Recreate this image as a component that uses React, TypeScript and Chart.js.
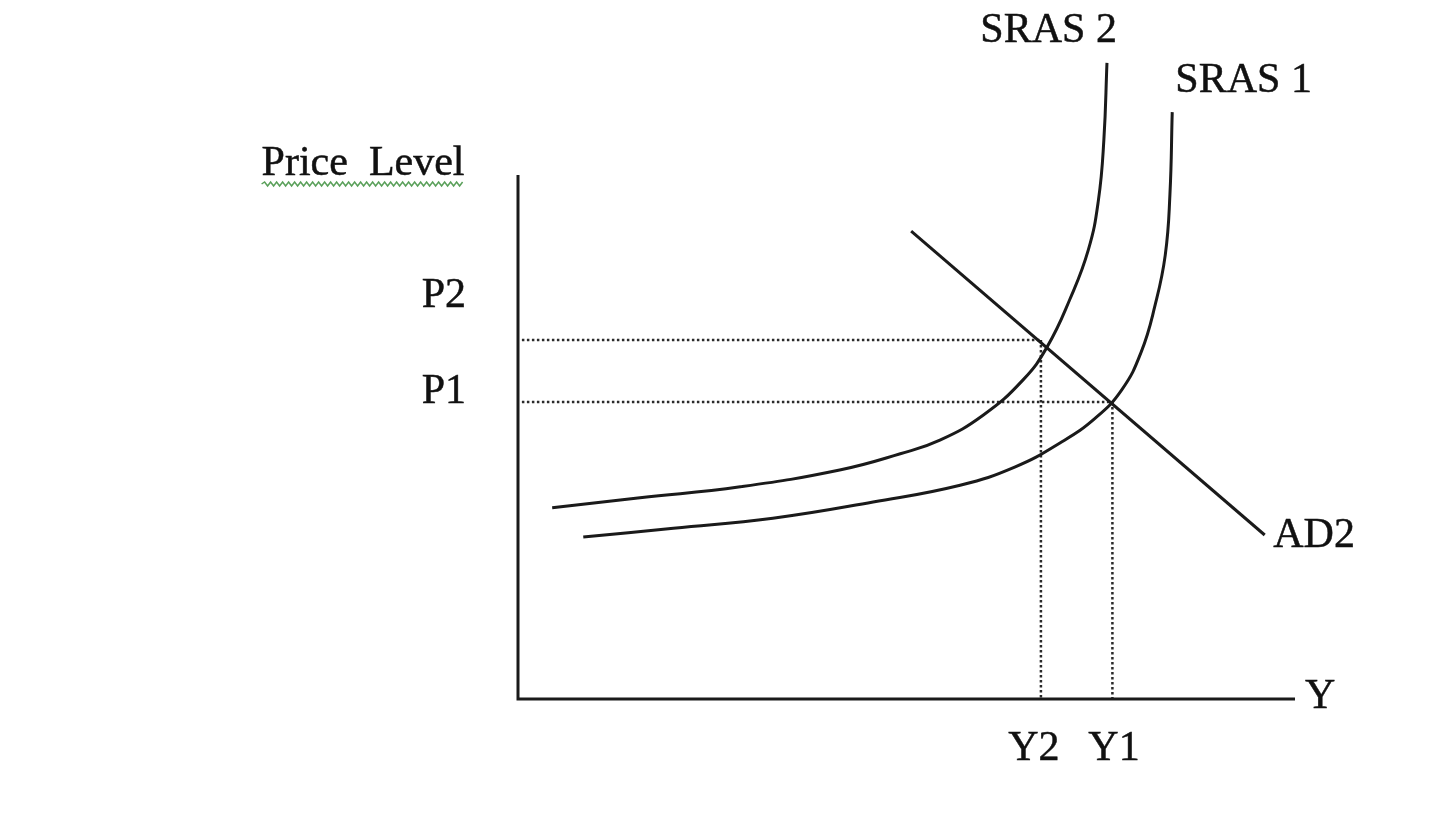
import React, { useEffect, useRef } from "react";
import { Chart, registerables } from "chart.js";

Chart.register(...registerables);

// Curves (data units: x = output Y, y = price level; axis origin at 0,0)
const sras2X = [4.4, 15.7, 28.6, 41.4, 49.2, 54.3, 59.9, 65.0, 68.1, 71.0, 73.4, 74.7, 75.4, 75.8];
const sras2Y = [36.5, 38.4, 40.5, 43.7, 46.8, 49.4, 54.2, 60.9, 67.2, 76.2, 85.7, 95.2, 106.7, 121.4];
const sras1X = [8.4, 20.0, 32.8, 45.7, 56.9, 64.0, 69.8, 74.3, 77.7, 80.2, 82.0, 83.3, 83.9, 84.2];
const sras1Y = [30.9, 32.6, 34.5, 37.6, 40.8, 44.3, 48.9, 53.6, 59.0, 66.2, 75.2, 84.7, 96.2, 112.0];
const ad2X = [50.6, 96.1];
const ad2Y = [89.3, 31.3];

// Axes
const axisX = [0, 0, 100];
const axisY = [100, 0, 0];

// Equilibrium levels
const priceLevelNames = ["P1", "P2"];
const priceLevels = [56.7, 68.5];
const outputLevelNames = ["Y1", "Y2"];
const outputLevels = [76.5, 67.3];

// Text labels and their anchor (left, baseline) in data units
const labelTexts = ["SRAS 2", "SRAS 1", "Price  Level", "P2", "P1", "AD2", "Y", "Y2", "Y1"];
const labelXs = [59.5, 84.6, -33.0, -12.4, -12.4, 97.2, 101.3, 63.1, 73.4];
const labelYs = [125.4, 115.8, 100.0, 74.8, 56.5, 29.0, -1.7, -11.6, -11.6];

const X_MIN = -66.667;
const X_MAX = 118.661;
const Y_MIN = -24.809;
const Y_MAX = 133.397;

const FONT = "42px 'Liberation Serif', 'Times New Roman', serif";

const toPts = (xs: number[], ys: number[]) => xs.map((x, i) => ({ x, y: ys[i] }));

export default function App() {
  const ref = useRef<HTMLCanvasElement | null>(null);

  useEffect(() => {
    if (!ref.current) return;
    let chart: Chart | null = null;
    let cancelled = false;
    const lineColor = "#1a1a1a";
    const dotColor = "#2a2a2a";

    const solid = (data: { x: number; y: number }[], width = 3, tension = 0) => ({
      data,
      showLine: true,
      borderColor: lineColor,
      borderWidth: width,
      pointRadius: 0,
      fill: false,
      cubicInterpolationMode: "default" as const,
      tension,
      borderCapStyle: "butt" as const,
      borderJoinStyle: "miter" as const,
    });

    const datasets: any[] = [
      solid(toPts(axisX, axisY), 3),
      solid(toPts(sras2X, sras2Y), 3, 0.45),
      solid(toPts(sras1X, sras1Y), 3, 0.45),
      solid(toPts(ad2X, ad2Y), 3),
    ];

    priceLevels.forEach((p, i) => {
      const dotted = {
        showLine: true,
        borderColor: dotColor,
        borderWidth: 2.5,
        borderDash: [2.5, 2.5],
        pointRadius: 0,
      };
      datasets.push({
        ...dotted,
        label: priceLevelNames[i],
        data: [
          { x: 0.5, y: p },
          { x: outputLevels[i], y: p },
        ],
      });
      datasets.push({
        ...dotted,
        label: outputLevelNames[i],
        data: [
          { x: outputLevels[i], y: p },
          { x: outputLevels[i], y: 0 },
        ],
      });
    });

    const labelPlugin = {
      id: "labels",
      afterDatasetsDraw(c: any) {
        const { ctx, scales } = c;
        ctx.save();
        ctx.fillStyle = "#111111";
        ctx.strokeStyle = "#111111";
        ctx.lineWidth = 0.5;
        ctx.font = FONT;
        ctx.textAlign = "left";
        ctx.textBaseline = "alphabetic";
        labelTexts.forEach((t, i) => {
          const px = scales.x.getPixelForValue(labelXs[i]);
          const py = scales.y.getPixelForValue(labelYs[i]);
          ctx.fillText(t, px, py);
          ctx.strokeText(t, px, py);
          if (t === "Price  Level") {
            const w = ctx.measureText(t).width;
            ctx.save();
            ctx.beginPath();
            ctx.strokeStyle = "#5aa05a";
            ctx.lineWidth = 1.5;
            const y0 = py + 9;
            let up = true;
            ctx.moveTo(px, y0);
            for (let xx = px + 3; xx <= px + w; xx += 3) {
              ctx.lineTo(xx, y0 + (up ? -2 : 2));
              up = !up;
            }
            ctx.stroke();
            ctx.restore();
          }
        });
        ctx.restore();
      },
    };

    const build = () => {
      if (cancelled || !ref.current) return;
      chart = new Chart(ref.current, {
        type: "scatter",
        data: { datasets },
        options: {
          animation: false,
          responsive: true,
          maintainAspectRatio: false,
          layout: { padding: 0 },
          plugins: { legend: { display: false }, tooltip: { enabled: false } },
          scales: {
            x: { type: "linear", min: X_MIN, max: X_MAX, display: false },
            y: { type: "linear", min: Y_MIN, max: Y_MAX, display: false },
          },
        },
        plugins: [labelPlugin],
      });
    };

    const fonts: any = (document as any).fonts;
    if (fonts && fonts.load) {
      fonts.load(FONT, "SRAS Price Level").then(build, build);
    } else {
      build();
    }
    return () => {
      cancelled = true;
      if (chart) chart.destroy();
    };
  }, []);

  return (
    <div
      style={{
        position: "fixed",
        left: 0,
        top: 0,
        width: 1440,
        height: 829,
        background: "#ffffff",
      }}
    >
      <canvas ref={ref} />
    </div>
  );
}
